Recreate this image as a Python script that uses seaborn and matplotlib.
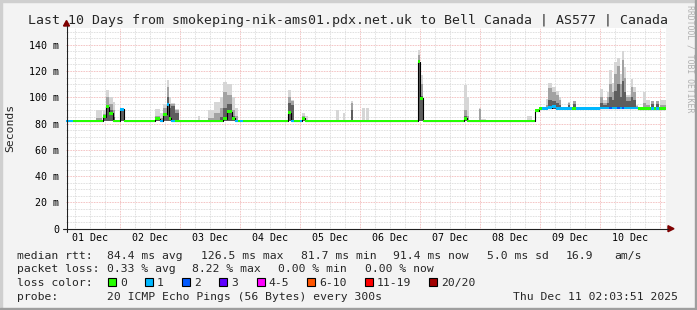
import numpy as np
import matplotlib
matplotlib.use("Agg")
import matplotlib.pyplot as plt
import seaborn as sns
from matplotlib.patches import Rectangle, Polygon
from matplotlib.lines import Line2D

# ---------------- data (time in hours since 01 Dec 00:00) ----------------
seg_start = [2.4, 5.2, 14.4, 16.8, 17.3, 18.4, 19.7, 21.1, 22.0, 24.0,
             25.6, 38.0, 40.0, 41.3, 42.7, 43.7, 44.4, 46.0, 47.6, 55.2,
             56.0, 59.2, 61.6, 64.0, 65.2, 66.7, 68.7, 70.0, 71.3, 72.0,
             73.3, 91.2, 92.4, 93.6, 96.0, 96.8, 98.0, 99.2, 110.4, 111.6,
             113.2, 114.0, 116.4, 117.2, 120.8, 122.0, 122.4, 123.6, 143.1, 144.1,
             145.3, 161.6, 162.9, 163.7, 167.6, 168.4, 170.4, 186.7, 188.7, 190.0,
             191.6, 192.8, 194.3, 195.3, 196.8, 198.4, 199.7, 200.4, 203.2, 204.1,
             204.7, 205.3, 206.3, 216.0, 217.3, 218.7, 219.7, 220.7, 221.7, 222.7,
             224.0, 224.7, 225.6, 226.4, 228.3, 229.3, 230.4, 231.3, 233.3, 234.4,
             236.0, 236.3, 237.6, 238.4, 239.5, 240.0]
seg_median = [82.0, 82.0, 82.0, 82.0, 85.2, 92.8, 87.8, 82.0, 82.0, 90.8,
              82.0, 83.7, 82.0, 87.0, 94.6, 84.0, 82.0, 82.0, 82.0, 82.0,
              82.0, 82.0, 82.0, 82.0, 83.7, 89.0, 84.0, 82.0, 82.0, 82.0,
              82.0, 88.3, 82.0, 82.0, 82.0, 84.0, 82.0, 82.0, 82.0, 82.0,
              82.0, 82.0, 82.0, 82.0, 82.0, 82.0, 82.0, 82.0, 127.0, 99.2,
              82.0, 84.0, 82.0, 82.0, 82.0, 82.0, 82.0, 82.0, 82.0, 89.8,
              91.6, 91.6, 91.6, 92.0, 92.8, 91.6, 91.6, 91.6, 91.6, 91.6,
              91.6, 91.6, 91.6, 91.8, 91.8, 91.8, 91.8, 91.8, 91.8, 91.8,
              91.8, 91.8, 91.8, 91.8, 91.8, 91.8, 91.8, 91.4, 91.4, 91.4,
              91.4, 91.4, 91.4, 91.4, 91.4, 91.4]
seg_loss = [1, 0, 0, 0, 0, 0, 0, 0, 0, 1,
            0, 0, 1, 0, 1, 0, 1, 0, 0, 0,
            0, 0, 0, 0, 0, 0, 0, 1, 0, 1,
            0, 0, 1, 0, 1, 0, 0, 0, 0, 0,
            0, 0, 0, 0, 0, 0, 0, 0, 0, 0,
            0, 0, 0, 0, 0, 0, 0, 0, 0, 0,
            0, 1, 1, 1, 1, 1, 1, 1, 1, 1,
            0, 0, 1, 1, 1, 1, 2, 1, 1, 2,
            1, 2, 1, 1, 1, 1, 1, 0, 0, 0,
            0, 1, 0, 1, 0, 0]
# smoke levels (0 = no smoke in that interval)
smoke_light = [0, 0, 90, 0, 90, 105.6, 100, 96.6, 0, 91,
               0, 90.8, 88, 95, 113, 100, 95.4, 91, 0, 86,
               0, 90, 96.6, 100, 111.9, 110, 100, 92, 0, 0,
               0, 105.6, 98, 0, 0, 88, 86, 0, 90, 0,
               88, 0, 97, 0, 92, 0, 92, 0, 136, 117,
               0, 109.3, 100, 0, 91.6, 83.5, 0, 85.8, 0, 0,
               0, 0, 98.4, 110.6, 108, 105, 100, 0, 96.6, 0,
               0, 97.4, 0, 106, 98, 104, 121, 111, 127, 129.6,
               118, 135.4, 123, 101.7, 114, 108, 94, 0, 104, 98,
               0, 97.4, 0, 97.4, 0, 98]
smoke_mid = [0, 0, 84, 0, 87, 100, 95, 90, 0, 91,
             0, 86, 84, 92, 108, 95, 95, 90, 0, 0,
             0, 84, 88, 92, 104, 102, 90, 86, 0, 0,
             0, 100, 97, 0, 0, 86, 0, 0, 0, 0,
             0, 0, 96, 0, 0, 0, 0, 0, 132, 110,
             0, 90, 86, 0, 91, 0, 0, 0, 0, 0,
             0, 0, 94, 106.8, 104, 101.7, 98, 0, 96, 0,
             0, 97, 0, 100, 96, 100, 110, 104, 118, 124,
             110, 128, 115, 100, 108, 104, 93, 0, 96, 94,
             0, 97, 0, 97, 0, 94]
smoke_dark = [0, 0, 0, 0, 85, 94, 90, 85, 0, 90.8,
              0, 84, 0, 88, 100, 92, 93, 88, 0, 0,
              0, 0, 0, 85, 92, 95, 86, 0, 0, 0,
              0, 96, 94, 0, 0, 85, 0, 0, 0, 0,
              0, 0, 90, 0, 0, 0, 0, 0, 128, 101,
              0, 86, 0, 0, 0, 0, 0, 0, 0, 0,
              0, 0, 0, 98, 97, 96, 94, 0, 94, 0,
              0, 95, 0, 96, 94, 96, 100, 98, 105, 110,
              100, 112, 104, 97, 100, 98, 0, 0, 0, 0,
              0, 95, 0, 95, 0, 0]
t_now = 242.4

day_labels = ["01 Dec", "02 Dec", "03 Dec", "04 Dec", "05 Dec",
              "06 Dec", "07 Dec", "08 Dec", "09 Dec", "10 Dec"]
y_ticks = [0, 20, 40, 60, 80, 100, 120, 140]
y_tick_labels = ["0", "20 m", "40 m", "60 m", "80 m", "100 m", "120 m", "140 m"]

loss_labels = ["0", "1", "2", "3", "4-5", "6-10", "11-19", "20/20"]
loss_colors = ["#26ff00", "#00b8ff", "#0059ff", "#5e00ff",
               "#ff00ff", "#ff5500", "#ff0000", "#a10000"]

title = "Last 10 Days from smokeping-nik-ams01.pdx.net.uk to Bell Canada | AS577 | Canada"
rtt_stats = ["84.4 ms avg", "126.5 ms max", "81.7 ms min", "91.4 ms now",
             "5.0 ms sd", "16.9", "am/s"]
loss_stats = ["0.33 % avg", "8.22 % max", "0.00 % min", "0.00 % now"]
probe_text = "20 ICMP Echo Pings (56 Bytes) every 300s"
stamp_text = "Thu Dec 11 02:03:51 2025"

# ---------------- style ----------------
sns.set_theme(style="white")
plt.rcParams["font.family"] = ["DejaVu Sans Mono", "DejaVu Sans"]

W, H = 697, 310
def fx(x):
    return x / W
def fy(y):
    return 1 - y / H

fig = plt.figure(figsize=(W / 100, H / 100), dpi=100, facecolor="#f3f3f3")
ax = fig.add_axes([fx(66), fy(228.7), 600 / W, (228.7 - 28) / H])
ax.set_facecolor("white")

starts = np.array(seg_start)
widths = np.diff(np.append(starts, t_now))
med = np.array(seg_median)
floor = np.where(starts < 190.0, 81.7, 91.0)

# smoke layers
for vals, col in [(smoke_light, "#d6d6d6"), (smoke_mid, "#a2a2a2"), (smoke_dark, "#5e5e5e")]:
    v = np.array(vals, float)
    top = np.where(v > 0, v, floor)
    ax.bar(starts, top - floor, width=widths, bottom=floor, align="edge",
           color=col, linewidth=0, antialiased=False, zorder=2)

# black median step line
sns.lineplot(x=np.append(starts, t_now), y=np.append(med, med[-1]),
             drawstyle="steps-post", color="black", linewidth=0.8,
             estimator=None, sort=False, ax=ax, zorder=3)
# loss-coloured median band
ax.bar(starts, 2.0, width=widths, bottom=med - 1.0, align="edge",
       color=[loss_colors[i] for i in seg_loss], linewidth=0,
       antialiased=False, zorder=4)

# axes, ticks, grid
ax.set_xlim(2.4, t_now)
ax.set_ylim(0, 152.7)
midnights = np.arange(24, 241, 24)
ax.set_xticks(midnights)
ax.set_xticklabels([])
minor_x = [h for h in range(6, 242, 6) if h % 24 != 0]
minor_lbl = [day_labels[h // 24] if h % 24 == 12 else "" for h in minor_x]
ax.set_xticks(minor_x, labels=minor_lbl, minor=True)
ax.set_yticks(y_ticks, labels=y_tick_labels)
ax.set_yticks([v for v in range(5, 153, 5) if v % 20], minor=True)

ax.set_axisbelow(True)
ax.grid(True, which="major", color="#f0b0b0", linestyle=(0, (0.72, 0.9)), linewidth=0.72)
ax.grid(True, which="minor", color="#d6d6d6", linestyle=(0, (0.72, 0.9)), linewidth=0.72)
ax.tick_params(axis="both", which="major", length=2.5, width=0.72, color="#202020",
               labelsize=7.2, pad=2.5, labelcolor="black")
ax.tick_params(axis="both", which="minor", length=1.5, width=0.72, color="#808080",
               labelsize=7.2, pad=1.6, labelcolor="black")
for s in ax.spines.values():
    s.set_visible(False)

# axis lines and arrows
fig.add_artist(Line2D([fx(62.5), fx(668)], [fy(228.7), fy(228.7)], color="#202020",
                      linewidth=0.8, transform=fig.transFigure))
fig.add_artist(Line2D([fx(66.5), fx(66.5)], [fy(231.5), fy(26)], color="#202020",
                      linewidth=0.8, transform=fig.transFigure))
fig.add_artist(Polygon([(fx(668), fy(225.7)), (fx(674), fy(228.7)), (fx(668), fy(231.7))],
                       closed=True, color="#7f0000", transform=fig.transFigure))
fig.add_artist(Polygon([(fx(63.5), fy(26)), (fx(66.5), fy(20.5)), (fx(69.5), fy(26))],
                       closed=True, color="#7f0000", transform=fig.transFigure))

# frame shading
fig.add_artist(Rectangle((0, fy(2)), 1, 2 / H, color="#cfcfcf", transform=fig.transFigure))
fig.add_artist(Rectangle((0, 0), 2 / W, 1, color="#cfcfcf", transform=fig.transFigure))
fig.add_artist(Rectangle((0, 0), 1, 2 / H, color="#9e9e9e", transform=fig.transFigure))
fig.add_artist(Rectangle((fx(695), 0), 2 / W, 1, color="#9e9e9e", transform=fig.transFigure))

# texts
fig.text(fx(348.5), fy(24), title, ha="center", va="baseline", fontsize=9.5)
fig.text(fx(10.5), fy(128.3), "Seconds", rotation=90, ha="center", va="center", fontsize=8.2)
fig.text(fx(690), fy(5), "RRDTOOL / TOBI OETIKER", rotation=270, ha="center", va="top",
         fontsize=5.9, color="#b0b0b0")

LF = 8.2
fig.text(fx(16.7), fy(258.7), "median rtt:", fontsize=LF, va="baseline")
for txt, x in zip(rtt_stats, [107.3, 200.7, 300.7, 392.7, 486.7, 566, 614]):
    fig.text(fx(x), fy(258.7), txt, fontsize=LF, va="baseline")
fig.text(fx(16.7), fy(272.3), "packet loss:", fontsize=LF, va="baseline")
for txt, x in zip(loss_stats, [107.3, 192.5, 277.5, 365]):
    fig.text(fx(x), fy(272.3), txt, fontsize=LF, va="baseline")
fig.text(fx(16.7), fy(285.9), "loss color:", fontsize=LF, va="baseline")
bx = 108.3
for lbl, col in zip(loss_labels, loss_colors):
    fig.add_artist(Rectangle((fx(bx), fy(285.7)), 8 / W, 8 / H, facecolor=col,
                             edgecolor="black", linewidth=0.8, transform=fig.transFigure))
    fig.text(fx(bx + 11.5), fy(285.9), lbl, fontsize=LF, va="baseline")
    bx += 30.2 + 6.86 * len(lbl)
fig.text(fx(16.7), fy(299.5), "probe:", fontsize=LF, va="baseline")
fig.text(fx(107.3), fy(299.5), probe_text, fontsize=LF, va="baseline")
fig.text(fx(678), fy(299.5), stamp_text, fontsize=LF, va="baseline", ha="right")

fig.savefig("out.png", dpi=100, facecolor=fig.get_facecolor())
